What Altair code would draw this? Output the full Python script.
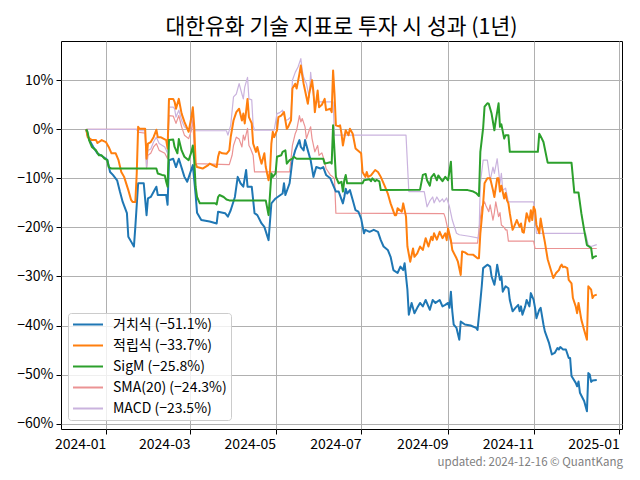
import altair as alt
import pandas as pd

FONT = "Noto Sans CJK KR"
TITLE = "대한유화 기술 지표로 투자 시 성과 (1년)"
FOOTER = "updated: 2024-12-16 © QuantKang"

SERIES = ["거치식 (−51.1%)", "적립식 (−33.7%)", "SigM (−25.8%)", "SMA(20) (−24.3%)", "MACD (−23.5%)"]
COLORS = ["#1f77b4", "#ff7f0e", "#2ca02c", "#eb9394", "#cab3de"]
WIDTHS = [2.0, 2.0, 2.0, 1.2, 1.2]

BH_DATES = ["2023-12-18","2023-12-19","2023-12-21","2023-12-23","2023-12-26","2023-12-30","2024-01-02","2024-01-04","2024-01-06","2024-01-09","2024-01-11","2024-01-13","2024-01-16","2024-01-17","2024-01-19","2024-01-21","2024-01-22","2024-01-24","2024-01-28","2024-01-30","2024-01-31","2024-02-02","2024-02-06","2024-02-07","2024-02-13","2024-02-14","2024-02-15","2024-02-18","2024-02-20","2024-02-22","2024-02-26","2024-02-28","2024-03-03","2024-03-05","2024-03-06","2024-03-09","2024-03-15","2024-03-20","2024-03-21","2024-03-26","2024-03-28","2024-03-30","2024-04-02","2024-04-04","2024-04-06","2024-04-08","2024-04-10","2024-04-11","2024-04-14","2024-04-16","2024-04-18","2024-04-21","2024-04-23","2024-04-26","2024-04-28","2024-05-01","2024-05-06","2024-05-07","2024-05-08","2024-05-11","2024-05-13","2024-05-15","2024-05-18","2024-05-19","2024-05-21","2024-05-22","2024-05-24","2024-05-26","2024-05-28","2024-05-30","2024-06-02","2024-06-04","2024-06-06","2024-06-09","2024-06-13","2024-06-15","2024-06-18","2024-06-19","2024-06-20","2024-06-21","2024-06-23","2024-06-25","2024-06-27","2024-06-29","2024-07-01","2024-07-03","2024-07-04","2024-07-07","2024-07-10","2024-07-13","2024-07-15","2024-07-17","2024-07-20","2024-07-22","2024-07-24","2024-07-27","2024-07-29","2024-07-31","2024-08-01","2024-08-03","2024-08-04","2024-08-06","2024-08-08","2024-08-10","2024-08-12","2024-08-14","2024-08-16","2024-08-19","2024-08-21","2024-08-23","2024-08-26","2024-08-28","2024-08-30","2024-09-01","2024-09-02","2024-09-03","2024-09-04","2024-09-05","2024-09-07","2024-09-09","2024-09-10","2024-09-13","2024-09-17","2024-09-21","2024-09-22","2024-09-24","2024-09-25","2024-09-26","2024-09-29","2024-10-01","2024-10-02","2024-10-04","2024-10-05","2024-10-06","2024-10-08","2024-10-09","2024-10-10","2024-10-12","2024-10-14","2024-10-15","2024-10-17","2024-10-19","2024-10-21","2024-10-22","2024-10-23","2024-10-24","2024-10-26","2024-10-27","2024-10-29","2024-10-30","2024-11-01","2024-11-02","2024-11-03","2024-11-05","2024-11-06","2024-11-08","2024-11-09","2024-11-12","2024-11-14","2024-11-16","2024-11-18","2024-11-19","2024-11-20","2024-11-22","2024-11-24","2024-11-26","2024-11-27","2024-11-28","2024-12-01","2024-12-02","2024-12-03","2024-12-04","2024-12-07","2024-12-09","2024-12-10","2024-12-11","2024-12-12","2024-12-13","2024-12-16"]
BH_VALUES = [0.0,-1.2,-2.6,-3.6,-4.9,-5.6,-6.2,-8.7,-9.3,-10.4,-12.7,-14.8,-17.1,-21.9,-22.9,-23.9,-19.9,-11.0,-11.0,-17.5,-14.1,-13.8,-11.7,-13.4,-13.4,-15.4,-6.3,-6.0,-7.7,-6.0,-9.7,-10.7,-7.3,-13.4,-17.0,-18.5,-18.8,-19.2,-16.8,-17.1,-17.8,-16.5,-13.8,-9.7,-11.0,-11.7,-8.3,-11.7,-11.7,-17.1,-17.5,-19.2,-19.9,-22.6,-15.1,-14.1,-13.1,-11.0,-13.4,-11.0,-6.3,-4.3,-2.2,-3.6,-4.3,-2.2,-4.3,-6.3,-9.7,-7.7,-8.0,-7.7,-9.3,-10.0,-12.7,-12.7,-15.1,-13.8,-12.1,-13.1,-12.4,-14.4,-16.5,-16.8,-18.2,-21.2,-20.5,-20.9,-20.5,-20.9,-22.6,-23.9,-24.6,-26.0,-28.7,-29.3,-28.0,-28.7,-27.3,-32.7,-37.8,-35.4,-37.5,-36.4,-35.4,-36.1,-34.8,-36.8,-34.8,-35.4,-34.8,-36.1,-35.8,-35.4,-36.4,-33.1,-37.1,-39.8,-40.5,-42.9,-39.2,-39.8,-40.0,-40.5,-40.9,-35.1,-32.0,-28.3,-27.6,-28.0,-30.0,-31.7,-30.0,-27.6,-30.7,-30.0,-33.1,-32.0,-32.4,-34.8,-37.1,-36.4,-35.8,-37.1,-36.1,-37.8,-36.1,-34.8,-36.1,-33.4,-34.8,-36.4,-38.5,-36.8,-36.4,-39.8,-41.2,-43.6,-45.9,-45.6,-44.6,-44.9,-44.4,-44.9,-44.9,-46.6,-46.6,-50.3,-51.7,-52.4,-51.4,-53.7,-55.4,-57.5,-49.7,-50.0,-51.5,-51.2,-51.1]

DCA_DATES = ["2023-12-18","2023-12-19","2023-12-22","2023-12-25","2023-12-26","2023-12-29","2024-01-01","2024-01-03","2024-01-05","2024-01-08","2024-01-10","2024-01-12","2024-01-14","2024-01-17","2024-01-19","2024-01-20","2024-01-22","2024-01-23","2024-01-24","2024-01-25","2024-01-29","2024-01-30","2024-01-31","2024-02-02","2024-02-04","2024-02-06","2024-02-07","2024-02-09","2024-02-13","2024-02-14","2024-02-15","2024-02-18","2024-02-19","2024-02-20","2024-02-22","2024-02-24","2024-02-26","2024-02-29","2024-03-02","2024-03-03","2024-03-04","2024-03-05","2024-03-06","2024-03-10","2024-03-14","2024-03-15","2024-03-20","2024-03-21","2024-03-22","2024-03-24","2024-03-27","2024-03-29","2024-03-30","2024-04-01","2024-04-03","2024-04-05","2024-04-07","2024-04-08","2024-04-09","2024-04-11","2024-04-12","2024-04-14","2024-04-15","2024-04-17","2024-04-18","2024-04-20","2024-04-21","2024-04-23","2024-04-24","2024-04-26","2024-04-27","2024-04-28","2024-04-29","2024-04-30","2024-05-02","2024-05-03","2024-05-05","2024-05-07","2024-05-09","2024-05-10","2024-05-12","2024-05-13","2024-05-15","2024-05-16","2024-05-18","2024-05-19","2024-05-20","2024-05-21","2024-05-24","2024-05-25","2024-05-27","2024-05-28","2024-05-29","2024-05-31","2024-06-01","2024-06-03","2024-06-05","2024-06-06","2024-06-09","2024-06-10","2024-06-11","2024-06-12","2024-06-13","2024-06-15","2024-06-16","2024-06-17","2024-06-18","2024-06-20","2024-06-22","2024-06-23","2024-06-25","2024-06-27","2024-07-01","2024-07-02","2024-07-04","2024-07-05","2024-07-06","2024-07-08","2024-07-11","2024-07-13","2024-07-15","2024-07-18","2024-07-20","2024-07-22","2024-07-25","2024-07-26","2024-07-27","2024-07-30","2024-07-31","2024-08-02","2024-08-03","2024-08-05","2024-08-07","2024-08-08","2024-08-10","2024-08-12","2024-08-14","2024-08-16","2024-08-18","2024-08-20","2024-08-21","2024-08-22","2024-08-24","2024-08-26","2024-08-28","2024-08-30","2024-08-31","2024-09-01","2024-09-03","2024-09-04","2024-09-07","2024-09-08","2024-09-10","2024-09-11","2024-09-13","2024-09-15","2024-09-19","2024-09-22","2024-09-23","2024-09-24","2024-09-26","2024-09-27","2024-09-29","2024-10-01","2024-10-03","2024-10-04","2024-10-06","2024-10-07","2024-10-08","2024-10-09","2024-10-11","2024-10-12","2024-10-13","2024-10-14","2024-10-15","2024-10-17","2024-10-18","2024-10-20","2024-10-22","2024-10-23","2024-10-24","2024-10-25","2024-10-27","2024-10-29","2024-10-30","2024-10-31","2024-11-01","2024-11-02","2024-11-03","2024-11-05","2024-11-06","2024-11-07","2024-11-09","2024-11-11","2024-11-15","2024-11-17","2024-11-19","2024-11-20","2024-11-21","2024-11-22","2024-11-23","2024-11-25","2024-11-26","2024-11-28","2024-11-29","2024-12-01","2024-12-02","2024-12-03","2024-12-05","2024-12-07","2024-12-09","2024-12-10","2024-12-12","2024-12-13","2024-12-14","2024-12-16"]
DCA_VALUES = [0.0,-1.6,-2.2,-2.2,-2.8,-2.2,-2.6,-3.6,-4.9,-4.9,-6.3,-8.7,-9.7,-12.4,-14.4,-14.8,-14.8,-9.0,0.5,0.1,0.1,-6.0,-2.9,-2.6,-1.6,-0.1,-1.6,-1.6,-2.2,-3.9,6.2,6.2,5.6,4.2,6.2,3.2,1.5,-0.5,2.5,4.5,0.5,-7.0,-7.7,-8.0,-7.3,-7.0,-7.7,-5.6,-4.6,-4.9,-5.0,-4.3,-1.6,1.8,3.5,4.2,1.8,3.2,1.2,6.2,2.5,1.2,-2.9,-4.6,-3.6,-6.0,-7.0,-4.9,-7.7,-10.4,-8.7,-2.9,-0.5,-1.6,-0.2,2.5,2.8,3.5,0.1,0.5,1.8,8.3,9.3,8.3,11.3,13.0,11.0,9.3,5.2,7.3,10.0,7.7,3.5,7.9,4.5,5.0,6.2,3.9,4.2,3.5,12.0,7.3,0.8,0.6,0.8,-0.9,-3.3,-0.2,-1.2,0.1,-0.9,-3.9,-4.9,-8.7,-9.7,-8.7,-9.7,-9.4,-8.3,-8.7,-9.7,-11.7,-13.1,-15.1,-17.5,-17.5,-16.1,-16.8,-15.1,-17.8,-23.9,-27.0,-24.3,-26.0,-25.3,-23.9,-24.6,-22.2,-23.9,-21.9,-22.6,-21.2,-22.5,-20.9,-22.2,-21.2,-22.6,-20.2,-22.6,-24.6,-26.3,-27.0,-29.7,-24.9,-25.1,-25.5,-25.6,-26.3,-26.3,-21.2,-15.1,-11.0,-10.0,-10.0,-12.4,-13.8,-10.0,-10.0,-12.7,-11.5,-14.1,-13.0,-14.5,-15.1,-17.1,-20.5,-19.9,-18.5,-19.9,-19.2,-20.9,-21.1,-17.1,-18.8,-16.5,-18.5,-15.8,-16.5,-19.5,-21.2,-18.2,-19.9,-23.0,-26.5,-30.3,-29.3,-28.7,-28.0,-27.6,-28.1,-28.0,-28.3,-30.7,-31.4,-34.4,-36.1,-37.5,-35.4,-38.8,-40.9,-42.9,-32.0,-32.7,-34.4,-33.9,-33.7]

SIGM_DATES = ["2023-12-18","2023-12-19","2023-12-20","2023-12-22","2023-12-25","2023-12-27","2023-12-29","2023-12-31","2024-01-02","2024-01-03","2024-01-05","2024-02-06","2024-02-07","2024-02-10","2024-02-12","2024-02-13","2024-02-14","2024-02-15","2024-02-18","2024-02-19","2024-02-21","2024-02-22","2024-02-24","2024-02-26","2024-02-29","2024-03-02","2024-03-03","2024-03-04","2024-03-05","2024-03-06","2024-03-08","2024-03-19","2024-03-20","2024-03-21","2024-03-22","2024-03-25","2024-03-27","2024-03-29","2024-04-24","2024-04-26","2024-04-27","2024-04-28","2024-04-29","2024-05-01","2024-05-02","2024-05-05","2024-05-06","2024-05-08","2024-05-09","2024-05-11","2024-05-13","2024-05-14","2024-05-16","2024-06-04","2024-06-05","2024-06-09","2024-06-10","2024-06-11","2024-06-13","2024-06-15","2024-06-17","2024-06-18","2024-06-19","2024-06-20","2024-06-21","2024-07-02","2024-07-03","2024-07-07","2024-07-08","2024-07-09","2024-07-11","2024-07-12","2024-07-14","2024-07-15","2024-08-12","2024-08-14","2024-08-16","2024-08-17","2024-08-19","2024-08-20","2024-08-22","2024-08-24","2024-08-25","2024-08-27","2024-08-28","2024-08-30","2024-09-01","2024-09-03","2024-09-04","2024-09-15","2024-09-19","2024-09-21","2024-09-23","2024-09-24","2024-09-26","2024-09-27","2024-09-29","2024-09-30","2024-10-02","2024-10-04","2024-10-05","2024-10-07","2024-10-08","2024-10-09","2024-10-11","2024-10-12","2024-10-14","2024-10-15","2024-11-04","2024-11-05","2024-11-06","2024-11-08","2024-11-11","2024-11-28","2024-11-30","2024-12-03","2024-12-05","2024-12-07","2024-12-09","2024-12-11","2024-12-12","2024-12-13","2024-12-14","2024-12-16"]
SIGM_VALUES = [0.0,-0.6,-2.2,-3.6,-4.3,-5.3,-5.3,-6.0,-6.3,-7.7,-8.0,-8.0,-9.0,-9.3,-9.4,-10.7,-11.7,-2.2,-2.1,-3.6,-4.9,-2.0,-4.3,-5.6,-6.3,-4.6,-3.3,-6.3,-11.7,-13.8,-15.1,-15.1,-15.3,-13.8,-13.4,-13.8,-14.3,-14.5,-14.5,-17.5,-13.4,-9.0,-9.7,-9.0,-5.6,-5.3,-4.6,-4.3,-7.0,-6.3,-6.0,-5.6,-6.0,-6.0,-7.0,-6.7,-7.0,0.8,-9.7,-11.0,-10.7,-12.7,-10.4,-9.3,-11.0,-11.0,-10.4,-10.2,-10.6,-10.0,-10.6,-10.3,-10.6,-12.4,-12.3,-9.3,-9.1,-10.4,-11.5,-9.8,-9.1,-10.4,-9.4,-10.2,-10.6,-9.7,-10.4,-6.6,-12.3,-12.4,-12.7,-13.0,-13.6,-4.6,0.3,4.6,5.3,5.2,3.2,-0.2,1.8,5.3,0.5,1.0,-1.9,-1.2,-1.2,-4.6,-4.6,-0.9,-1.4,-2.6,-6.8,-6.8,-12.9,-12.9,-17.1,-20.5,-23.6,-24.0,-24.2,-26.3,-26.0,-25.8]

SMA_DATES = ["2023-12-18","2024-01-23","2024-01-24","2024-01-29","2024-01-30","2024-01-31","2024-02-02","2024-02-04","2024-02-06","2024-02-08","2024-02-12","2024-02-14","2024-02-15","2024-02-18","2024-02-20","2024-02-22","2024-02-24","2024-02-26","2024-02-29","2024-03-02","2024-03-03","2024-03-04","2024-03-05","2024-03-29","2024-03-31","2024-04-01","2024-04-03","2024-04-05","2024-04-07","2024-04-08","2024-04-09","2024-04-11","2024-04-12","2024-04-13","2024-04-15","2024-04-16","2024-05-11","2024-05-13","2024-05-15","2024-05-16","2024-05-18","2024-05-19","2024-05-20","2024-05-22","2024-05-23","2024-05-25","2024-05-26","2024-05-27","2024-05-29","2024-05-31","2024-06-01","2024-06-03","2024-06-05","2024-06-06","2024-06-09","2024-06-10","2024-06-12","2024-06-13","2024-08-29","2024-08-30","2024-09-03","2024-09-22","2024-09-23","2024-09-25","2024-09-27","2024-09-28","2024-09-30","2024-10-01","2024-10-03","2024-10-04","2024-10-05","2024-10-07","2024-10-08","2024-10-09","2024-10-11","2024-10-12","2024-10-13","2024-10-14","2024-11-01","2024-11-02","2024-12-16"]
SMA_VALUES = [0.0,0.0,-0.6,-0.8,-8.0,-5.3,-4.9,-3.6,-2.9,-4.3,-4.9,-6.0,2.8,2.7,1.2,2.8,0.5,-1.2,-1.9,-0.2,2.2,-4.3,-7.0,-7.2,-5.3,-3.3,-1.6,-2.0,-3.6,-1.2,-2.2,0.2,-3.3,-3.8,-5.3,-8.7,-8.7,-3.3,-0.9,-0.2,2.8,1.5,2.2,0.5,-1.9,-0.2,0.5,-1.9,-4.6,-3.3,-5.3,-4.8,-6.6,-8.0,-9.3,-9.5,-10.0,-17.1,-17.2,-18.0,-23.2,-23.2,-20.5,-15.8,-14.8,-15.6,-16.8,-15.4,-18.5,-17.0,-14.8,-17.8,-17.0,-19.5,-20.0,-20.5,-20.5,-22.8,-22.8,-24.3,-24.3]

MACD_DATES = ["2023-12-18","2024-01-23","2024-01-24","2024-01-29","2024-01-30","2024-01-31","2024-02-02","2024-02-04","2024-02-06","2024-02-08","2024-02-12","2024-02-14","2024-02-15","2024-02-18","2024-02-19","2024-02-20","2024-02-22","2024-02-24","2024-02-26","2024-02-29","2024-03-02","2024-03-03","2024-03-04","2024-03-27","2024-03-28","2024-03-30","2024-04-01","2024-04-03","2024-04-05","2024-04-07","2024-04-08","2024-04-09","2024-04-11","2024-04-12","2024-04-14","2024-04-15","2024-04-16","2024-04-30","2024-05-02","2024-05-04","2024-05-06","2024-05-08","2024-05-10","2024-05-12","2024-05-13","2024-05-15","2024-05-17","2024-05-19","2024-05-20","2024-05-21","2024-05-23","2024-05-25","2024-05-26","2024-05-27","2024-05-29","2024-05-30","2024-06-11","2024-06-12","2024-08-02","2024-08-04","2024-08-15","2024-08-17","2024-08-19","2024-08-21","2024-08-22","2024-08-24","2024-08-26","2024-08-28","2024-08-29","2024-08-31","2024-09-02","2024-09-04","2024-09-07","2024-09-09","2024-09-16","2024-09-23","2024-09-24","2024-09-26","2024-09-29","2024-09-30","2024-10-01","2024-10-03","2024-10-04","2024-10-06","2024-10-08","2024-10-09","2024-10-10","2024-10-12","2024-10-13","2024-10-14","2024-11-01","2024-11-03","2024-12-08","2024-12-10","2024-12-12","2024-12-16"]
MACD_VALUES = [0.0,0.0,-0.3,-0.3,-7.7,-4.3,-4.0,-2.6,-1.6,-2.9,-3.6,-4.9,4.5,4.5,4.2,2.5,3.9,1.8,0.5,-0.2,1.5,3.5,-0.3,-0.3,-1.2,0.8,6.6,7.2,9.3,7.2,6.2,8.6,10.6,6.2,6.0,0.8,-0.2,-0.2,3.2,3.4,3.9,1.8,2.0,2.6,10.0,11.6,12.7,14.4,12.0,10.6,9.3,6.5,11.6,8.6,5.2,5.6,5.6,-1.2,-1.2,-12.7,-12.7,-15.8,-14.6,-13.8,-15.0,-13.8,-14.8,-14.2,-14.8,-14.0,-15.8,-18.5,-21.2,-21.5,-21.8,-22.2,-11.0,-6.3,-6.3,-8.3,-10.4,-7.7,-9.0,-6.0,-11.0,-9.0,-12.4,-12.0,-13.4,-14.8,-14.8,-21.2,-21.2,-23.6,-23.9,-23.5]

Y_TICKS = [-60, -50, -40, -30, -20, -10, 0, 10]
X_TICKS = ["2024-01-01", "2024-03-01", "2024-05-01", "2024-07-01", "2024-09-01", "2024-11-01", "2025-01-01"]
X_DOMAIN = ["2023-11-30", "2025-01-03"]

series_data = {
    SERIES[0]: (BH_DATES, BH_VALUES),
    SERIES[1]: (DCA_DATES, DCA_VALUES),
    SERIES[2]: (SIGM_DATES, SIGM_VALUES),
    SERIES[3]: (SMA_DATES, SMA_VALUES),
    SERIES[4]: (MACD_DATES, MACD_VALUES),
}


def to_ms(d):
    return int(pd.Timestamp(d, tz="UTC").timestamp() * 1000)


tick_ms = [to_ms(d) for d in X_TICKS]
dom_ms = [to_ms(d) for d in X_DOMAIN]

x_enc = alt.X(
    "t:T",
    scale=alt.Scale(type="utc", domain=dom_ms),
    axis=alt.Axis(values=tick_ms, labelExpr="utcFormat(datum.value, '%Y-%m')",
                  labelAlign="right", title=None, labelPadding=3),
)
y_enc = alt.Y(
    "value:Q",
    scale=alt.Scale(domain=[-61.1, 18.0], nice=False, zero=False),
    axis=alt.Axis(values=Y_TICKS, title=None, labelPadding=3,
                  labelExpr="(datum.value < 0 ? '\u2212' : '') + abs(datum.value) + '%'"),
)

legend = alt.Legend(
    title=None, orient="none", legendX=7, legendY=272,
    symbolType="stroke", symbolSize=900, symbolStrokeWidth=2,
    clipHeight=15, rowPadding=6, padding=4, labelOffset=9,
    labelFont=FONT, labelFontSize=14, labelColor="black",
    fillColor="rgba(255,255,255,0.8)", strokeColor="#cccccc", cornerRadius=3,
)
color_enc = alt.Color("series:N", scale=alt.Scale(domain=SERIES, range=COLORS), legend=legend)

draw_order = [3, 4, 0, 1, 2]
layers = []
for i in draw_order:
    name = SERIES[i]
    dates, vals = series_data[name]
    df = pd.DataFrame({"t": [to_ms(d) for d in dates], "value": vals, "series": name})
    layers.append(
        alt.Chart(df).mark_line(strokeWidth=WIDTHS[i], strokeJoin="round").encode(
            x=x_enc, y=y_enc, color=color_enc
        )
    )

title_mark = alt.Chart(pd.DataFrame({"label": [TITLE]})).mark_text(
    font=FONT, fontSize=21.5, color="black", align="center", baseline="alphabetic"
).encode(text="label:N", x=alt.value(280.5), y=alt.value(-7.5))

footer_mark = alt.Chart(pd.DataFrame({"label": [FOOTER]})).mark_text(
    font=FONT, fontSize=11.5, color="#808080", align="right", baseline="alphabetic"
).encode(text="label:N", x=alt.value(562), y=alt.value(425))

chart = alt.layer(*layers, title_mark, footer_mark).properties(
    width=561, height=388,
    padding={"left": 53, "top": 33, "right": 10, "bottom": 43},
    autosize=alt.AutoSizeParams(type="none"),
).configure_view(
    stroke="black", strokeWidth=1
).configure_axis(
    domain=False, tickColor="black", tickSize=5, tickWidth=1,
    labelFont=FONT, labelFontSize=14, labelColor="black",
    gridColor="#b0b0b0", gridWidth=1,
)

chart.save("out.html", embed_options={"renderer": "svg", "actions": False})
